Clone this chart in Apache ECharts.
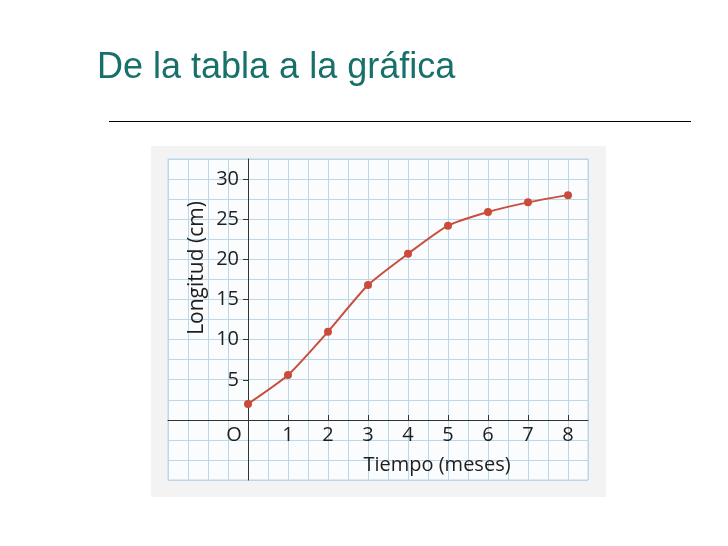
<!DOCTYPE html>
<html>
<head>
<meta charset="utf-8">
<script src="https://cdn.jsdelivr.net/npm/echarts@6/dist/echarts.min.js"></script>
<style>
  html, body { margin: 0; padding: 0; background: #fff; }
  #main { width: 728px; height: 546px; }
</style>
</head>
<body>
<div id="main"></div>
<script>
// Tiempo (meses) vs Longitud (cm)
var meses = [0, 1, 2, 3, 4, 5, 6, 7, 8];
var longitud = [2.0, 5.6, 11.0, 16.8, 20.7, 24.2, 25.9, 27.1, 28.0];
var xTicks = [1, 2, 3, 4, 5, 6, 7, 8];
var yTicks = [5, 10, 15, 20, 25, 30];

var chart = echarts.init(document.getElementById('main'));

var labelColor = '#1e1e1e';
var labelFamily = 'Open Sans';
var gridColor = '#bcd7e8';
var axisColor = '#333';

var option = {
    backgroundColor: '#fff',
    animation: false,
    grid: [
        // paper grid, covers the whole squared area
        {
            left: 168, right: 140, top: 159, bottom: 66,
            show: true,
            backgroundColor: '#fbfcfd',
            borderColor: gridColor,
            borderWidth: 1
        },
        // quadrant with the data, starts at the origin
        {
            left: 248, right: 140, top: 159, bottom: 126
        }
    ],
    graphic: [
        {
            type: 'text',
            x: 97,
            y: 68,
            z: 100,
            style: {
                text: 'De la tabla a la gráfica',
                fill: '#18706b',
                font: '36px "Liberation Sans", Arial, sans-serif',
                verticalAlign: 'middle'
            }
        },
        {
            type: 'line',
            z: 100,
            shape: { x1: 109, y1: 121.5, x2: 691, y2: 121.5 },
            style: { stroke: '#000', lineWidth: 1 }
        },
        {
            type: 'rect',
            z: -100,
            shape: { x: 151, y: 146, width: 455, height: 351 },
            style: { fill: '#f3f3f3' }
        },
        {
            type: 'text',
            x: 197,
            y: 268,
            z: 100,
            rotation: Math.PI / 2,
            style: {
                text: 'Longitud (cm)',
                fill: labelColor,
                font: '21px "Open Sans"',
                align: 'center',
                verticalAlign: 'middle'
            }
        },
        {
            type: 'text',
            x: 437,
            y: 465,
            z: 100,
            style: {
                text: 'Tiempo (meses)',
                fill: labelColor,
                font: '20px "Open Sans"',
                align: 'center',
                verticalAlign: 'middle'
            }
        },
        {
            type: 'text',
            x: 234,
            y: 435,
            z: 100,
            style: {
                text: 'O',
                fill: labelColor,
                font: '20px "Open Sans"',
                align: 'center',
                verticalAlign: 'middle'
            }
        }
    ],
    xAxis: [
        {
            type: 'value',
            gridIndex: 0,
            min: -2,
            max: 8.5,
            interval: 0.5,
            axisLine: { onZero: true, lineStyle: { color: axisColor, width: 1 } },
            axisTick: { show: false },
            axisLabel: { show: false },
            splitLine: { show: true, lineStyle: { color: gridColor, width: 1 } }
        },
        {
            type: 'value',
            gridIndex: 1,
            min: 0,
            max: 8.5,
            interval: 0.5,
            axisLine: { show: false },
            axisTick: {
                show: true,
                inside: true,
                length: 5,
                customValues: xTicks,
                lineStyle: { color: axisColor }
            },
            axisLabel: {
                customValues: xTicks,
                margin: 5,
                color: labelColor,
                fontFamily: labelFamily,
                fontSize: 20
            },
            splitLine: { show: false }
        }
    ],
    yAxis: [
        {
            type: 'value',
            gridIndex: 0,
            min: -7.5,
            max: 32.5,
            interval: 2.5,
            axisLine: { onZero: true, lineStyle: { color: axisColor, width: 1 } },
            axisTick: { show: false },
            axisLabel: { show: false },
            splitLine: { show: true, lineStyle: { color: gridColor, width: 1 } }
        },
        {
            type: 'value',
            gridIndex: 1,
            min: 0,
            max: 32.5,
            interval: 2.5,
            axisLine: { show: false },
            axisTick: {
                show: true,
                length: 5,
                customValues: yTicks,
                lineStyle: { color: axisColor }
            },
            axisLabel: {
                customValues: yTicks,
                margin: 9,
                color: labelColor,
                fontFamily: labelFamily,
                fontSize: 20
            },
            splitLine: { show: false }
        }
    ],
    series: [{
        type: 'line',
        xAxisIndex: 1,
        yAxisIndex: 1,
        clip: false,
        data: meses.map(function (m, i) {
            return [m, longitud[i]];
        }),
        smooth: 0.2,
        symbol: 'circle',
        symbolSize: 8,
        lineStyle: { color: '#c94e3e', width: 2 },
        itemStyle: { color: '#cc4a3a' }
    }]
};

chart.setOption(option);
</script>
</body>
</html>
